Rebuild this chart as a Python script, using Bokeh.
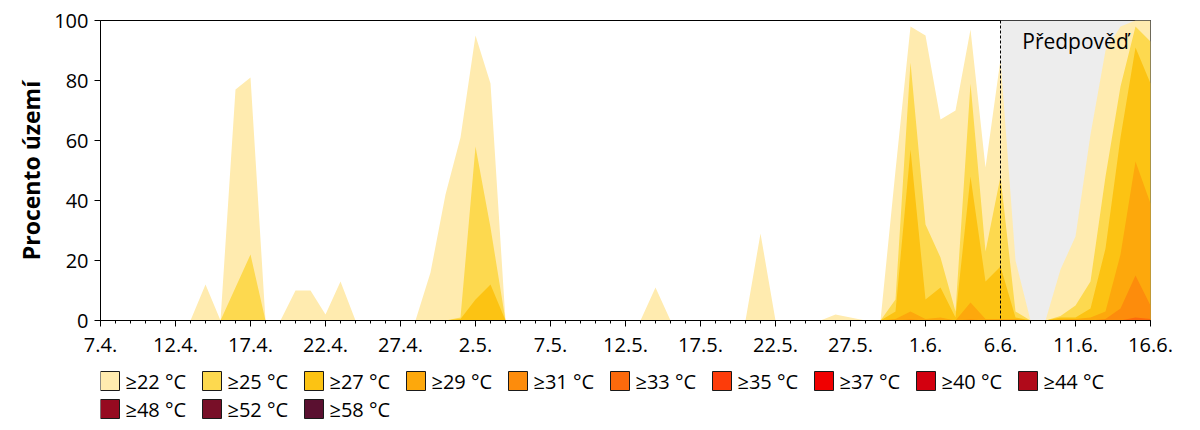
from bokeh.plotting import figure
from bokeh.models import (Range1d, FixedTicker, BoxAnnotation, Span, Label)
from bokeh.layouts import column
from bokeh.core.properties import value
from bokeh.embed import file_html
from bokeh.resources import INLINE

FONT = "Open Sans"

# day index 0 = 7.4., 70 = 16.6.
days = list(range(71))
tick_positions = [0, 5, 10, 15, 20, 25, 30, 35, 40, 45, 50, 55, 60, 65, 70]
tick_labels = ["7.4.", "12.4.", "17.4.", "22.4.", "27.4.", "2.5.", "7.5.",
               "12.5.", "17.5.", "22.5.", "27.5.", "1.6.", "6.6.", "11.6.", "16.6."]
forecast_start = 60
forecast_end = 70
forecast_label = "Předpověď"

t22 = [0, 0, 0, 0, 0, 0, 0, 12, 0, 77,
       81, 0, 0, 10, 10, 2, 13, 0, 0, 0,
       0, 0, 16, 42, 61, 95, 79, 0, 0, 0,
       0, 0, 0, 0, 0, 0, 0, 11, 0, 0,
       0, 0, 0, 0, 29, 0, 0, 0, 0, 2,
       1, 0, 0, 50, 98, 95, 67, 70, 97, 51,
       87, 20, 0, 0, 17, 28, 62, 90, 98, 100,
       100]
t25 = [0, 0, 0, 0, 0, 0, 0, 0, 0, 11,
       22, 0, 0, 0, 0, 0, 0, 0, 0, 0,
       0, 0, 0, 0, 1, 58, 31, 0, 0, 0,
       0, 0, 0, 0, 0, 0, 0, 0, 0, 0,
       0, 0, 0, 0, 0, 0, 0, 0, 0, 0,
       0, 0, 0, 7, 86, 32, 21, 3, 79, 23,
       48, 3, 0, 0, 1.5, 5, 13, 48, 78, 98,
       93]
t27 = [0, 0, 0, 0, 0, 0, 0, 0, 0, 0,
       0, 0, 0, 0, 0, 0, 0, 0, 0, 0,
       0, 0, 0, 0, 0.5, 7, 12, 0, 0, 0,
       0, 0, 0, 0, 0, 0, 0, 0, 0, 0,
       0, 0, 0, 0, 0, 0, 0, 0, 0, 0,
       0, 0, 0, 3, 57, 7, 11, 1, 48, 13,
       18, 1, 0, 0, 1, 1, 4, 24, 61, 91,
       79]
t29 = [0, 0, 0, 0, 0, 0, 0, 0, 0, 0,
       0, 0, 0, 0, 0, 0, 0, 0, 0, 0,
       0, 0, 0, 0, 0, 0, 0, 0, 0, 0,
       0, 0, 0, 0, 0, 0, 0, 0, 0, 0,
       0, 0, 0, 0, 0, 0, 0, 0, 0, 0,
       0, 0, 0, 0.5, 3, 0.5, 1, 0, 6, 0.5,
       0.5, 0.5, 0, 0, 0.3, 0.5, 1, 3, 22, 53,
       39]
t31 = [0, 0, 0, 0, 0, 0, 0, 0, 0, 0,
       0, 0, 0, 0, 0, 0, 0, 0, 0, 0,
       0, 0, 0, 0, 0, 0, 0, 0, 0, 0,
       0, 0, 0, 0, 0, 0, 0, 0, 0, 0,
       0, 0, 0, 0, 0, 0, 0, 0, 0, 0,
       0, 0, 0, 0, 0.3, 0, 0, 0, 0.3, 0,
       0, 0, 0, 0, 0, 0, 0, 0.5, 4, 15,
       5]
t33 = [0, 0, 0, 0, 0, 0, 0, 0, 0, 0,
       0, 0, 0, 0, 0, 0, 0, 0, 0, 0,
       0, 0, 0, 0, 0, 0, 0, 0, 0, 0,
       0, 0, 0, 0, 0, 0, 0, 0, 0, 0,
       0, 0, 0, 0, 0, 0, 0, 0, 0, 0,
       0, 0, 0, 0, 0, 0, 0, 0, 0, 0,
       0, 0, 0, 0, 0, 0, 0, 0, 0, 1,
       0.5]
t35 = [0] * 71
t37 = [0] * 71
t40 = [0] * 71
t44 = [0] * 71
t48 = [0] * 71
t52 = [0] * 71
t58 = [0] * 71

series_labels = ["≥22 °C", "≥25 °C", "≥27 °C", "≥29 °C", "≥31 °C", "≥33 °C",
                 "≥35 °C", "≥37 °C", "≥40 °C", "≥44 °C", "≥48 °C", "≥52 °C", "≥58 °C"]
series_colors = ["#FFEBAF", "#FDD94F", "#FCC313", "#FDA80C", "#FD8C0C", "#FD6A0C",
                 "#FD3C0A", "#F00000", "#D3000F", "#B00A1A", "#960A20", "#780F28", "#5A1030"]
series_values = [t22, t25, t27, t29, t31, t33, t35, t37, t40, t44, t48, t52, t58]

W = 1192
# ---------------- main chart ----------------
p = figure(width=W, height=363, output_backend="svg", toolbar_location=None,
           x_range=Range1d(0, 70), y_range=Range1d(0, 100),
           min_border_left=100, min_border_right=42, min_border_top=20,
           min_border_bottom=43)
p.outline_line_color = "black"
p.outline_line_width = 1
p.grid.visible = False
p.background_fill_color = "white"
p.border_fill_color = "white"

p.add_layout(BoxAnnotation(left=forecast_start, right=forecast_end,
                           fill_color="#EDEDED", fill_alpha=1.0,
                           line_alpha=0, level="underlay"))

for col, vals in zip(series_colors, series_values):
    p.varea(x=days, y1=0, y2=vals, fill_color=col, fill_alpha=1.0)

p.add_layout(Span(location=forecast_start, dimension="height", line_color="black",
                  line_width=1, line_dash="3 2"))
p.add_layout(Label(x=(forecast_start + forecast_end) / 2, y=93.3, text=forecast_label,
                   text_align="center", text_baseline="middle",
                   text_font=FONT, text_font_size="21px", text_color="black"))

xa = p.xaxis[0]
xa.ticker = FixedTicker(ticks=tick_positions, minor_ticks=days)
xa.major_label_overrides = {k: v for k, v in zip(tick_positions, tick_labels)}
xa.major_label_text_font = FONT
xa.major_label_text_font_size = "20px"
xa.major_label_text_color = "black"
xa.major_tick_out = 6
xa.major_tick_in = 0
xa.minor_tick_out = 3
xa.minor_tick_in = 0
xa.axis_line_color = "black"
xa.major_tick_line_color = "black"
xa.minor_tick_line_color = "black"
xa.major_label_standoff = 11

ya = p.yaxis[0]
ya.ticker = FixedTicker(ticks=[0, 20, 40, 60, 80, 100])
ya.major_label_text_font = FONT
ya.major_label_text_font_size = "20px"
ya.major_label_text_color = "black"
ya.major_tick_out = 6
ya.major_tick_in = 0
ya.minor_tick_out = 0
ya.minor_tick_in = 0
ya.axis_line_color = "black"
ya.major_tick_line_color = "black"
ya.major_label_standoff = 6
ya.axis_label = "Procento území"
ya.axis_label_text_font = FONT
ya.axis_label_text_font_style = "bold"
ya.axis_label_text_font_size = "23px"
ya.axis_label_text_color = "black"
ya.axis_label_standoff = 4

# ---------------- legend strip ----------------
LH = 65
lg = figure(width=W, height=LH, output_backend="svg", toolbar_location=None,
            x_range=Range1d(100, 1150), y_range=Range1d(LH, 0),
            x_axis_type=None, y_axis_type=None,
            min_border_left=100, min_border_right=42, min_border_top=0,
            min_border_bottom=0)
lg.outline_line_color = None
lg.grid.visible = False
lg.background_fill_color = "white"
lg.border_fill_color = "white"

ncols = 10
pitch = 102
row_gap = 28
sx = [109.5 + pitch * (i % ncols) for i in range(len(series_labels))]
sy = [17.5 + row_gap * (i // ncols) for i in range(len(series_labels))]
tx = [x + 15.5 for x in sx]
lg.rect(x=sx, y=sy, width=19, height=19, fill_color=series_colors,
        line_color="#1a1a1a", line_width=1)
lg.text(x=tx, y=sy, text=series_labels, text_font=value(FONT),
        text_font_size="20px", text_baseline="middle", text_align="left",
        text_color="black")

layout = column(p, lg, spacing=0)
open("out.html", "w").write(file_html(layout, INLINE))
